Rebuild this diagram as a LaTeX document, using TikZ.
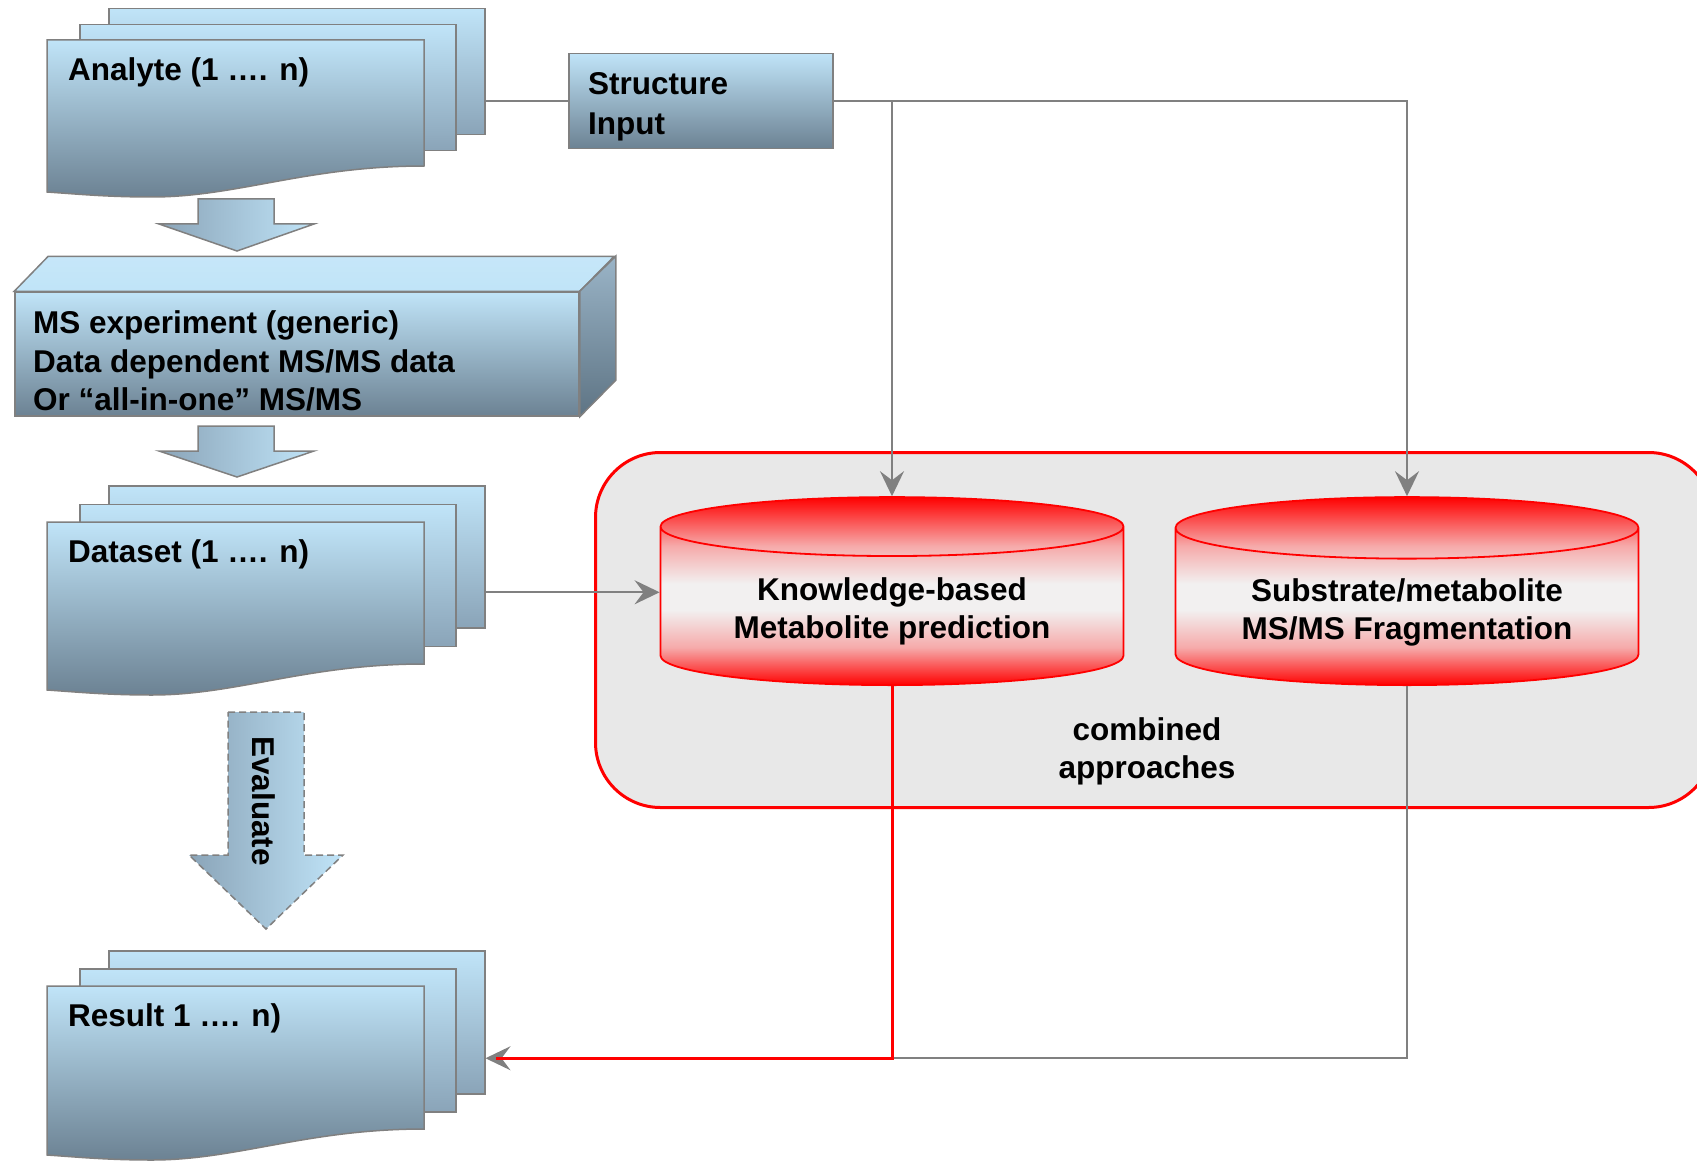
\documentclass[tikz,border=0pt]{standalone}
\usepackage{fontspec}
\setmainfont{Liberation Sans}
\usetikzlibrary{arrows.meta,positioning,shapes.geometric,calc}

\definecolor{paleblue}{RGB}{192,228,248}
\definecolor{midblue}{RGB}{138,164,184}
\definecolor{deepblue}{RGB}{108,130,147}
\definecolor{sidetop}{RGB}{154,180,199}
\definecolor{sidebot}{RGB}{94,116,132}
\definecolor{edgegray}{RGB}{128,128,128}
\definecolor{groupfill}{RGB}{232,232,232}
\definecolor{cylmid}{RGB}{242,240,240}
\definecolor{cylpink}{RGB}{246,170,170}

\pgfdeclareverticalshading{cylshade}{100bp}{color(0bp)=(red); color(25bp)=(red);
  color(35bp)=(cylpink); color(45bp)=(cylmid); color(52bp)=(cylmid);
  color(62bp)=(cylpink); color(75bp)=(red); color(100bp)=(red)}

\begin{document}
\begin{tikzpicture}[
  x=1pt, y=-1pt, font=\fontsize{31.5}{38}\selectfont\bfseries,
  >={Stealth[length=25pt,width=24pt,inset=9pt]},
  page/.style={draw=edgegray, line width=1.5pt, top color=paleblue, bottom color=midblue,
               minimum width=376pt, anchor=north west, inner sep=0pt},
  frontpage/.style={draw=edgegray, line width=1.5pt, top color=paleblue, bottom color=deepblue},
  doclabel/.style={anchor=west, inner sep=0pt, align=left},
  slab/.style={draw=edgegray, line width=1.5pt, top color=paleblue, bottom color=deepblue,
               minimum width=564pt, minimum height=124pt, inner sep=0pt},
  slabtop/.style={draw=edgegray, line width=1.5pt, top color=paleblue!90!white, bottom color=paleblue},
  slabside/.style={draw=edgegray, line width=1.5pt, top color=sidetop, bottom color=sidebot},
  inputbox/.style={draw=edgegray, line width=1.5pt, top color=paleblue, bottom color=deepblue,
                   minimum width=264pt, minimum height=95pt, inner sep=0pt},
  blockarrow/.style={draw=edgegray, line width=1.5pt, left color=midblue, right color=paleblue},
  groupbox/.style={draw=red, line width=3pt, fill=groupfill, rounded corners=65pt,
                   minimum width=1118pt, minimum height=355pt, anchor=north west},
  dbase/.style={cylinder, shape border rotate=90, aspect=0.186, draw=red, line width=1.8pt,
                shading=cylshade, anchor=south,
                minimum width=463pt, minimum height=188pt, align=center, inner sep=0pt},
  wire/.style={draw=edgegray, line width=2pt},
  redwire/.style={draw=red, line width=3pt},
  pics/docstack/.style 2 args={code={
    \node[page, minimum height=#1] (-back) at (61,-#2) {};
    \node[page, minimum height=#1] (-mid) at (32,-#2/2) {};
    \shade[frontpage] (0,0) -- (377,0) -- (377,#1)
      .. controls (260,#1) and (190,#1+31) .. (105,#1+31)
      .. controls (60,#1+31) and (30,#1+28) .. (0,#1+26) -- cycle;
  }}
]
\useasboundingbox (0,0) rectangle (1697,1161);

% left column
\pic (analyte) at (47,40) {docstack={126}{32}};
\node[doclabel] (analytetxt) at (68,72) {Analyte (1 …. n)};

\shade[blockarrow] (198,199) -- (274,199) -- (274,224) -- (314,224) -- (237,251) -- (159,224) -- (198,224) -- cycle;

\node[slab] (msexp) at (297,354) {};
\shade[slabtop] (msexp.north west) -- ++(34,-35) -- ++(566,0) -- (msexp.north east) -- cycle;
\shade[slabside] (msexp.north east) -- ++(36,-35) -- ++(0,124) -- (msexp.south east) -- cycle;
\node[doclabel, font=\fontsize{31.5}{38.5}\selectfont\bfseries] (mstxt) at (33,361)
  {MS experiment (generic)\\Data dependent MS/MS data\\Or “all-in-one” MS/MS};

\shade[blockarrow] (198,426) -- (274,426) -- (274,451) -- (314,451) -- (237,477) -- (159,451) -- (198,451) -- cycle;

\pic (dataset) at (47,522) {docstack={142}{37}};
\node[doclabel] (datasettxt) at (68,554) {Dataset (1 …. n)};

\shade[blockarrow, dash pattern=on 7pt off 4pt] (228,712) -- (304,712) -- (304,855) -- (343,855) -- (266,929) -- (189,855) -- (228,855) -- cycle;
\node[rotate=-90] (evaluate) at (264,801) {Evaluate};

\pic (result) at (47,986) {docstack={143}{36}};
\node[doclabel] (resulttxt) at (68,1018) {Result 1 …. n)};

% structure input
\node[inputbox] (structure) at (701,101) {};
\node[doclabel, font=\fontsize{31.5}{40}\selectfont\bfseries] (structuretxt) at (588,107) {Structure\\Input};

% combined approaches
\node[groupbox] (group) at (594,451) {};
\node[dbase] (knowledge) at (892,686) {\phantom{Knowledge-based}\\\phantom{Metabolite prediction}};
\node[dbase] (substrate) at (1407,686) {\phantom{Substrate/metabolite}\\\phantom{MS/MS Fragmentation}};
\node[align=center] (knowledgetxt) at ([yshift=-5pt]knowledge.center) {Knowledge-based\\Metabolite prediction};
\node[align=center] (substratetxt) at ([yshift=-5pt]substrate.center) {Substrate/metabolite\\MS/MS Fragmentation};
\node[align=center] (combinedtxt) at (1147,751) {combined\\approaches};

% connectors
\coordinate (drop) at ([yshift=-36pt]result-back.east);
\coordinate (inlet) at ([yshift=14pt]knowledge.west);
\draw[wire] (structure.west) -- (structure.west -| analyte-back.east);
\draw[wire, ->] (structure.east) -| (substrate.north);
\draw[wire, ->] (structure.east -| knowledge.north) -- (knowledge.north);
\draw[wire, ->] (inlet -| dataset-back.east) -- (inlet);
\draw[wire, ->] (substrate.south) |- (drop);
\draw[redwire] (knowledge.south) |- ([xshift=10pt]drop);
\end{tikzpicture}
\end{document}
